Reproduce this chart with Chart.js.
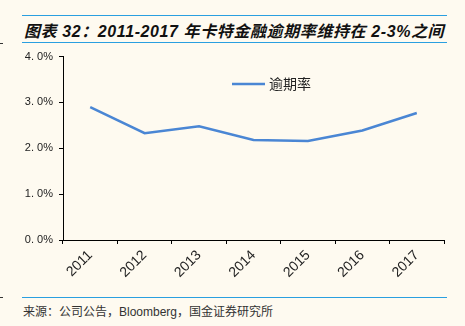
<!DOCTYPE html>
<html>
<head>
<meta charset="utf-8">
<script src="https://cdn.jsdelivr.net/npm/chart.js@4.4.1/dist/chart.umd.min.js"></script>
<style>
  html, body { margin: 0; padding: 0; }
  body { width: 465px; height: 326px; background: #fefaf0; position: relative; overflow: hidden; }
  .rule { position: absolute; left: 22px; width: 425px; height: 0; border-top: 1.5px solid #2a9fe0; }
  .mark { position: absolute; left: 0; width: 3px; height: 0; border-top: 1px solid #333; }
  #title { position: absolute; left: 24px; top: 18px; font: italic bold 16px "Liberation Sans", "Noto Sans CJK SC", sans-serif; color: #111; white-space: nowrap; letter-spacing: 0.6px; }
  #source { position: absolute; left: 23px; top: 302px; font: 12px "Liberation Sans", "Noto Sans CJK SC", sans-serif; color: #333; white-space: nowrap; }
  #wrap { position: absolute; left: 0; top: 44px; width: 465px; height: 250px; }
</style>
</head>
<body>
<div class="rule" style="top:15px"></div>
<div class="rule" style="top:42px"></div>
<div class="rule" style="top:297px"></div>
<div class="mark" style="top:43px"></div>
<div class="mark" style="top:297px"></div>
<div id="title">图表 32：2011-2017 年卡特金融逾期率维持在 2-3%之间</div>
<div id="source">来源：公司公告，Bloomberg，国金证券研究所</div>
<div id="wrap"><canvas id="lineChart"></canvas></div>
<script>
var years = ["2011", "2012", "2013", "2014", "2015", "2016", "2017"];
var overdueRate = [2.90, 2.33, 2.48, 2.18, 2.16, 2.39, 2.77];
var yTicks = [0, 1, 2, 3, 4];
var seriesName = "逾期率";
var lineColor = "#4a86d4";

// legend drawn inside the plot area, upper middle
var innerLegend = {
    id: 'innerLegend',
    afterDraw: function(chart) {
        var ctx = chart.ctx;
        var ds = chart.data.datasets[0];
        ctx.save();
        ctx.strokeStyle = ds.borderColor;
        ctx.lineWidth = 2.5;
        ctx.beginPath();
        ctx.moveTo(232, 40);
        ctx.lineTo(265, 40);
        ctx.stroke();
        ctx.fillStyle = '#222';
        ctx.font = '14px "Noto Sans CJK SC", sans-serif';
        ctx.textBaseline = 'middle';
        ctx.fillText(ds.label, 269, 40);
        ctx.restore();
    }
};

var ctxL = document.getElementById("lineChart").getContext('2d');
var myLineChart = new Chart(ctxL, {
    type: 'line',
    data: {
        labels: years,
        datasets: [
            {
                label: seriesName,
                data: overdueRate,
                borderColor: lineColor,
                backgroundColor: lineColor,
                borderWidth: 2.5,
                pointRadius: 0,
                tension: 0,
                fill: false
            }
        ]
    },
    options: {
        responsive: true,
        maintainAspectRatio: false,
        animation: false,
        layout: { padding: { top: 11, right: 21, left: 0, bottom: 0 } },
        plugins: {
            legend: { display: false },
            tooltip: { enabled: false }
        },
        scales: {
            x: {
                offset: true,
                grid: { offset: true, drawOnChartArea: false, drawTicks: true, tickLength: 4, color: '#000' },
                border: { display: true, color: '#000', width: 1 },
                ticks: {
                    color: '#222',
                    font: { family: '"Liberation Sans", Arial, sans-serif', size: 14 },
                    minRotation: 45,
                    maxRotation: 45,
                    padding: 3
                },
                afterFit: function(scale) { scale.height = 54; }
            },
            y: {
                min: 0,
                max: 4,
                afterBuildTicks: function(scale) {
                    scale.ticks = yTicks.map(function(v) { return { value: v }; });
                },
                grid: { drawOnChartArea: false, drawTicks: true, tickLength: 4, color: '#000' },
                border: { display: true, color: '#000', width: 1 },
                ticks: {
                    color: '#222',
                    font: { family: '"Liberation Sans", Arial, sans-serif', size: 11 },
                    padding: 6,
                    callback: function(v) { return v.toFixed(1).replace('.', '. ') + '%'; }
                },
                afterFit: function(scale) { scale.width = 63; }
            }
        }
    },
    plugins: [innerLegend]
});
</script>
</body>
</html>
